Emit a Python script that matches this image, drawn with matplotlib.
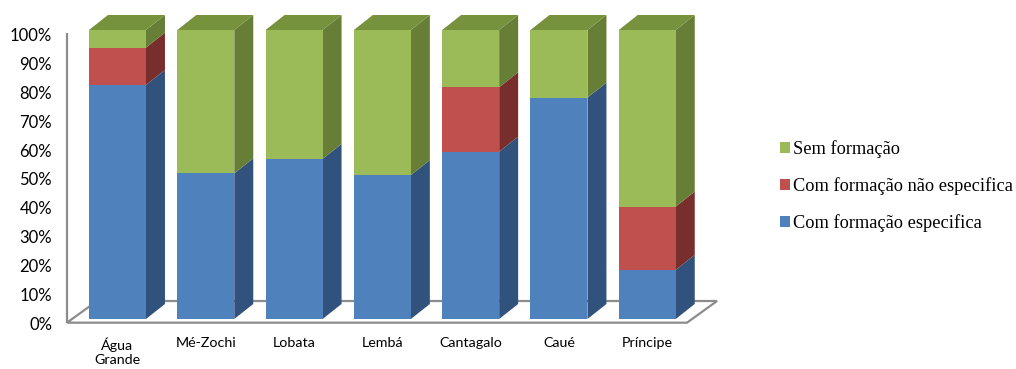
import matplotlib
matplotlib.use("Agg")
import matplotlib.pyplot as plt
from matplotlib.patches import Polygon, Patch
from matplotlib.transforms import ScaledTranslation, blended_transform_factory

# ---- data ----
categories = ["Água\nGrande", "Mé-Zochi", "Lobata", "Lembá", "Cantagalo", "Caué", "Príncipe"]
com_especifica = [81.0, 50.4, 55.4, 49.8, 57.9, 76.6, 17.0]
com_nao_especifica = [12.9, 0.0, 0.0, 0.0, 22.3, 0.0, 21.9]
sem_formacao = [6.1, 49.6, 44.6, 50.2, 19.8, 23.4, 61.1]
series_names = ["Com formação especifica", "Com formação não especifica", "Sem formação"]
ytick_values = [0, 10, 20, 30, 40, 50, 60, 70, 80, 90, 100]
ytick_labels = [f"{v}%" for v in ytick_values]

# ---- styles ----
front_colors = ["#4F81BD", "#C0504D", "#9BBB59"]
side_colors = ["#31527C", "#782E2D", "#667E36"]
top_colors = ["#3E6697", "#9A3E3C", "#76923C"]
floor_color = "#8C8C8C"

W, H, DPI = 1016, 369, 100
fig = plt.figure(figsize=(W / DPI, H / DPI), dpi=DPI)
# axes spanning pixel x 60..730 and y 5..340 (from top)
ax = fig.add_axes([60 / W, (H - 340) / H, 670 / W, 335 / H])
ax.set_xlim(-0.651, 6.937)
ax.set_ylim(-7.27, 108.65)
ax.axis("off")

bw = 0.6455      # front width (category units)
ddx = 0.215      # depth x (category units)
ddy = 5.19       # depth y (percent units)

# floor
fx0, fx1 = -0.572, 6.45
fy = -1.28
fdx, fdy = 0.34, 7.5
floor = Polygon([(fx0, fy), (fx1, fy), (fx1 + fdx, fy + fdy), (fx0 + fdx, fy + fdy)],
                closed=True, facecolor="white", edgecolor=floor_color, lw=1.6, zorder=1)
ax.add_patch(floor)
ax.plot([fx0, fx0], [fy, 99.0], color=floor_color, lw=1.6, zorder=1, solid_capstyle="butt")

series = [com_especifica, com_nao_especifica, sem_formacao]
n = len(categories)
for i in range(n):
    bottom = 0.0
    for s, vals in enumerate(series):
        v = vals[i]
        if v <= 0:
            continue
        top = bottom + v
        ax.bar(i, v, bottom=bottom, width=bw, color=front_colors[s], edgecolor="none", zorder=3)
        side = Polygon([(i + bw / 2, bottom), (i + bw / 2 + ddx, bottom + ddy),
                        (i + bw / 2 + ddx, top + ddy), (i + bw / 2, top)],
                       closed=True, facecolor=side_colors[s], edgecolor="none", zorder=2)
        ax.add_patch(side)
        bottom = top
    # top face, coloured by the top-most non-zero series
    last = max(s for s, vals in enumerate(series) if vals[i] > 0)
    topf = Polygon([(i - bw / 2, bottom), (i - bw / 2 + ddx, bottom + ddy),
                    (i + bw / 2 + ddx, bottom + ddy), (i + bw / 2, bottom)],
                   closed=True, facecolor=top_colors[last], edgecolor="none", zorder=3)
    ax.add_patch(topf)

# y tick labels
tick_font = dict(family="Lato", fontsize=12, color="#000000")
ytr = blended_transform_factory(fig.transFigure, ax.transData) + ScaledTranslation(0, -6 / DPI, fig.dpi_scale_trans)
for v, lab in zip(ytick_values, ytick_labels):
    ax.text(52 / W, v, lab, transform=ytr, ha="right", va="center", clip_on=False, **tick_font)

# category labels
for i, c in enumerate(categories):
    ax.text(i, -6.3, c, ha="center", va="top", family="Lato", fontsize=10.3,
            linespacing=1.2, clip_on=False)

# legend
handles = [Patch(facecolor=front_colors[s], edgecolor="none") for s in (2, 1, 0)]
labels = [series_names[s] for s in (2, 1, 0)]
leg = fig.legend(handles, labels, loc="upper left", bbox_to_anchor=(780 / W, 1 - 140 / H),
                 frameon=False, prop=dict(family="Liberation Serif", size=13.2),
                 handlelength=0.55, handleheight=0.55, handletextpad=0.15, labelspacing=1.05,
                 borderpad=0, borderaxespad=0)

fig.savefig("out.png", dpi=DPI)
